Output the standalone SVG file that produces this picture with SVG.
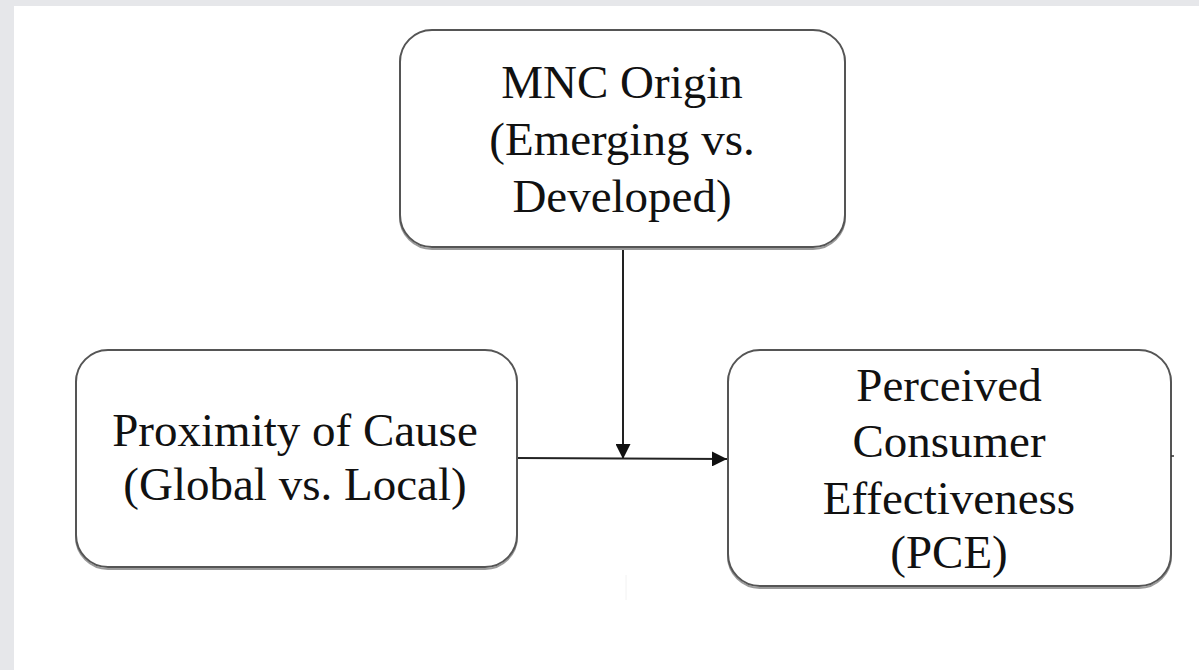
<svg xmlns="http://www.w3.org/2000/svg" width="1199" height="670" viewBox="0 0 1199 670">
  <defs>
    <style>
      .box { fill: #ffffff; stroke: #555555; stroke-width: 2; }
      .shadow { fill: none; stroke: #9a9a9a; stroke-width: 2; }
      .lbl { font-family: "Liberation Serif", "Times New Roman", serif; font-size: 47px; fill: #111111; text-anchor: middle; }
      .conn { stroke: #222222; stroke-width: 2; fill: none; }
    </style>
    <marker id="arrow2" viewBox="0 0 10 10" refX="10" refY="5" markerWidth="15" markerHeight="15" markerUnits="userSpaceOnUse" orient="auto">
      <path d="M0,0 L10,5 L0,10 Z" fill="#111111"/>
    </marker>
  </defs>

  <rect x="0" y="0" width="1199" height="670" fill="#ffffff"/>
  <rect x="0" y="0" width="1199" height="6" fill="#e6e7ea"/>
  <rect x="0" y="0" width="14" height="670" fill="#e6e7ea"/>

  <g id="connectors">
    <line class="conn" x1="623" y1="248" x2="623" y2="459" marker-end="url(#arrow2)"/>
    <line class="conn" x1="517" y1="458" x2="727" y2="459" marker-end="url(#arrow2)"/>
  </g>

  <g id="node-mnc">
    <rect class="shadow" x="400" y="32" width="445" height="217" rx="32" ry="32"/>
    <rect class="box" x="400" y="30" width="445" height="217" rx="32" ry="32"/>
    <text class="lbl" x="622" y="98">MNC Origin</text>
    <text class="lbl" x="622" y="155">(Emerging vs.</text>
    <text class="lbl" x="622" y="212">Developed)</text>
  </g>

  <g id="node-proximity">
    <rect class="shadow" x="76" y="352" width="441" height="217" rx="32" ry="32"/>
    <rect class="box" x="76" y="350" width="441" height="217" rx="32" ry="32"/>
    <text class="lbl" x="295" y="446">Proximity of Cause</text>
    <text class="lbl" x="295" y="500">(Global vs. Local)</text>
  </g>

  <g id="node-pce">
    <rect class="shadow" x="728" y="352" width="443" height="236" rx="32" ry="32"/>
    <rect class="box" x="728" y="350" width="443" height="236" rx="32" ry="32"/>
    <text class="lbl" x="949" y="401">Perceived</text>
    <text class="lbl" x="949" y="457">Consumer</text>
    <text class="lbl" x="949" y="514">Effectiveness</text>
    <text class="lbl" x="949" y="568">(PCE)</text>
  </g>

  <line x1="1171" y1="456" x2="1174" y2="456" stroke="#333333" stroke-width="1.5"/>
  <line x1="626" y1="575" x2="626" y2="600" stroke="#f2f2f2" stroke-width="1"/>
</svg>
